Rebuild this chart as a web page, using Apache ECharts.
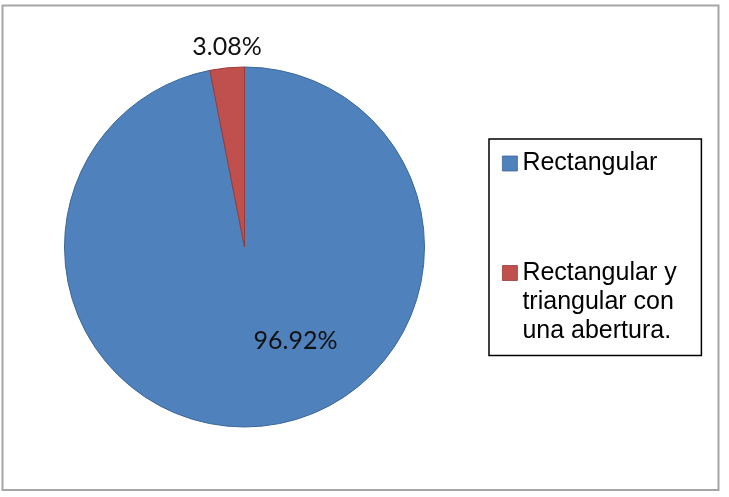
<!DOCTYPE html>
<html>
<head>
<meta charset="utf-8">
<script src="https://cdn.jsdelivr.net/npm/echarts@6/dist/echarts.min.js"></script>
<style>
  html, body { margin: 0; padding: 0; background: #fff; }
  #chart { width: 729px; height: 497px; }
</style>
</head>
<body>
<div id="chart"></div>
<script>
// datos del gráfico
const categories = ['Rectangular', 'Rectangular y triangular con una abertura.'];
const legendLabels = ['Rectangular', 'Rectangular y\ntriangular con\nuna abertura.'];
const values = [96.92, 3.08];
const colors = ['#4F81BD', '#C0504D'];
const borders = ['#3A6796', '#9B3A37'];

const chart = echarts.init(document.getElementById('chart'));

// las líneas vacías delante alinean la primera línea con el icono
function legendText(name) {
    const txt = legendLabels[categories.indexOf(name)];
    const n = txt.split('\n').length - 1;
    return '\n'.repeat(n) + txt;
}

chart.setOption({
    animation: false,
    graphic: [{
        type: 'rect',
        shape: { x: 2.5, y: 5.5, width: 716, height: 484.5 },
        style: { fill: 'none', stroke: '#a6a6a6', lineWidth: 2 },
        silent: true
    }],
    legend: {
        orient: 'vertical',
        left: 489,
        top: 139,
        padding: [10, 14, 10, 13],
        itemGap: 22.5,
        itemWidth: 15,
        itemHeight: 15,
        icon: 'rect',
        borderColor: '#000',
        borderWidth: 1.5,
        data: categories.map((name, i) => ({
            name: name,
            itemStyle: { borderColor: borders[i], borderWidth: 0.8 }
        })),
        formatter: legendText,
        textStyle: {
            fontFamily: 'Liberation Sans',
            fontSize: 25,
            lineHeight: 29,
            color: '#000',
            width: 165
        }
    },
    series: [{
        type: 'pie',
        center: [244.5, 247],
        radius: 180,
        startAngle: 90,
        clockwise: true,
        data: categories.map((name, i) => ({
            name: name,
            value: values[i],
            itemStyle: { color: colors[i], borderColor: borders[i], borderWidth: 1 },
            label: {
                position: i === 0 ? 'inside' : 'outside'
            }
        })),
        label: {
            show: true,
            formatter: p => p.value.toFixed(2) + '%',
            fontFamily: 'Lato',
            fontSize: 25,
            color: '#111',
            distanceToLabelLine: 0
        },
        labelLine: { show: false, length: 21, length2: 0 },
        labelLayout: p => p.dataIndex === 0 ? { dx: 42, dy: 1 } : { align: 'center', dx: 2 },
        emphasis: { disabled: true }
    }]
});
</script>
</body>
</html>
